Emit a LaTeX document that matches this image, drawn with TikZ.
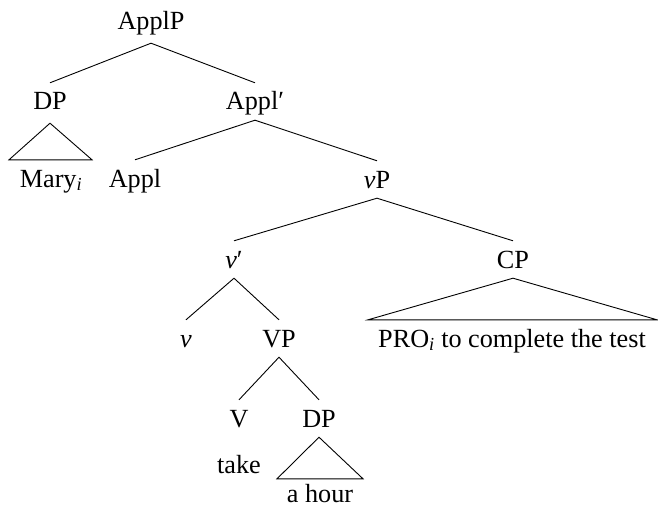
\documentclass[tikz,border=0pt]{standalone}
\usepackage{fontspec}
\setmainfont{Liberation Serif}
\begin{document}
\begin{tikzpicture}[x=1pt,y=-1pt,
  lbl/.style={anchor=base, inner xsep=0pt, inner ysep=10pt,
    text height=17pt, text depth=0pt,
    font=\fontsize{26.2}{30}\selectfont},
  branch/.style={line width=0.9pt, line join=miter}]
\useasboundingbox (0,0) rectangle (658,508);

% labels of the tree
\node[lbl] (ApplP)   at (151,30)  {ApplP};
\node[lbl] (DPa)     at (50,110)  {DP};
\node[lbl] (Applbar) at (255,110) {Appl′};
\node[lbl] (Mary)    at (51,187)  {Mary\textsubscript{\textit{i}}};
\node[lbl] (Appl)    at (135,187) {Appl};
\node[lbl] (vP)      at (377,188) {\textit{v}P};
\node[lbl] (vbar)    at (234,268) {\textit{v}′};
\node[lbl] (CP)      at (513,268) {CP};
\node[lbl] (v)       at (186,347) {\textit{v}};
\node[lbl] (VP)      at (279,347) {VP};
\node[lbl] (PRO)     at (512,347) {PRO\textsubscript{\textit{i}} to complete the test};
\node[lbl] (V)       at (239,427) {V};
\node[lbl] (DPb)     at (319,427) {DP};
\node[lbl] (take)    at (239,473) {take};
\node[lbl, inner ysep=0pt] (ahour) at (320,502) {a hour};

% branches
\draw[branch] (DPa.north) -- ([yshift=-3pt]ApplP.south) -- (Applbar.north);
\draw[branch] (Appl.north) -- (Applbar.south) -- (vP.north);
\draw[branch] (vbar.north) -- (vP.south) -- (CP.north);
\draw[branch] (v.north) -- (vbar.south) -- (VP.north);
\draw[branch] (V.north) -- (VP.south) -- (DPb.north);

% triangles over unanalysed constituents
\draw[branch] ([yshift=-3pt]DPa.south) -- ([xshift=-42pt]Mary.north)
  -- ([xshift=41pt]Mary.north) -- cycle;
\draw[branch] (CP.south) -- ([xshift=-144pt]PRO.north)
  -- ([xshift=145pt]PRO.north) -- cycle;
\draw[branch] (DPb.south) -- ([xshift=-43pt,yshift=6pt]ahour.north)
  -- ([xshift=43pt,yshift=6pt]ahour.north) -- cycle;
\end{tikzpicture}
\end{document}
